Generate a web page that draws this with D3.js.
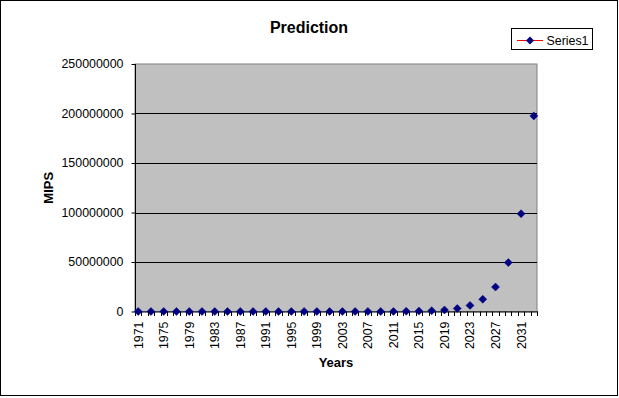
<!DOCTYPE html>
<html><head><meta charset="utf-8">
<script src="https://cdn.jsdelivr.net/npm/d3@7"></script>
<style>html,body{margin:0;padding:0;background:#fff}svg{display:block}text{font-family:"Liberation Sans",Arial,sans-serif}</style>
</head><body>
<script>
// Data
const years = d3.range(1971, 2034); // category axis: every year
const pointYears = [1971,1973,1975,1977,1979,1981,1983,1985,1987,1989,1991,1993,1995,1997,1999,2001,2003,2005,2007,2009,2011,2013,2015,2017,2019,2021,2023,2025,2027,2029,2031,2033];
const mips = [0.09,0.19,0.37,0.75,1.5,3,6,12,24,47,95,190,375,750,1500,3000,6000,12000,24000,48000,96500,193000,386000,772000,1540000,3090000,6175000,12350000,24700000,49400000,98800000,197600000];
const yTicks = [0,50000000,100000000,150000000,200000000,250000000];
const xLabels = [1971,1975,1979,1983,1987,1991,1995,1999,2003,2007,2011,2015,2019,2023,2027,2031];
const seriesName = "Series1";

const W = 619, H = 398;
const svg = d3.select("body").append("svg").attr("width", W).attr("height", H);
svg.append("rect").attr("x",0.5).attr("y",0.5).attr("width",617).attr("height",395)
  .attr("fill","#fff").attr("stroke","#000");

const L = 135, R = 537, T = 64, B = 311.5;
const x = d3.scaleBand().domain(years).range([L, R]);
const y = d3.scaleLinear().domain([0, 250000000]).range([B, T]);

svg.append("rect").attr("x",L).attr("y",T).attr("width",R-L).attr("height",B-T)
  .attr("fill","#C0C0C0").attr("stroke","#808080");

// gridlines
svg.append("g").selectAll("line").data(yTicks.filter(d=>d>0 && d<250000000)).join("line")
  .attr("x1",L).attr("x2",R).attr("y1",d=>Math.round(y(d))+0.5).attr("y2",d=>Math.round(y(d))+0.5)
  .attr("stroke","#000");

// y axis
const yAxis = d3.axisLeft(y).tickValues(yTicks).tickSize(4).tickPadding(8).tickFormat(d=>String(d));
const gy = svg.append("g").attr("transform",`translate(${L+0.5},0)`).call(yAxis);
gy.select(".domain").attr("stroke","#000").attr("d",`M0,${T}V${B}`);
gy.selectAll(".tick line").attr("stroke","#000");
gy.selectAll(".tick text").attr("font-size","12.4px").attr("fill","#000")
  .attr("font-family","'Liberation Sans',Arial,sans-serif");

// x axis: ticks at category boundaries
const boundaries = years.map(v=>x(v)).concat([R]);
svg.append("g").selectAll("line").data(boundaries).join("line")
  .attr("x1",d=>Math.round(d)+0.5).attr("x2",d=>Math.round(d)+0.5).attr("y1",B).attr("y2",B+4.5)
  .attr("stroke","#000");
svg.append("line").attr("x1",L).attr("x2",R+1).attr("y1",B+0.5).attr("y2",B+0.5).attr("stroke","#000");
svg.append("g").selectAll("text").data(xLabels).join("text")
  .attr("transform",d=>`translate(${x(d)+x.bandwidth()/2},321.5) rotate(-90)`)
  .attr("text-anchor","end").attr("dy","0.36em").attr("font-size","12.4px").attr("fill","#000")
  .text(d=>d);

// points
const sym = d3.symbol().type(d3.symbolDiamond2 || d3.symbolDiamond).size(30);
const diamond = "M0,-4L4,0L0,4L-4,0Z";
svg.append("g").selectAll("path").data(pointYears.map((yr,i)=>({yr,v:mips[i]}))).join("path")
  .attr("d",diamond).attr("fill","#000080").attr("stroke","#000080").attr("stroke-width",0.5)
  .attr("transform",d=>`translate(${x(d.yr)+x.bandwidth()/2},${y(d.v)})`);

// title & axis titles
svg.append("text").attr("x",309).attr("y",33).attr("text-anchor","middle")
  .attr("font-size","16px").attr("font-weight","bold").text("Prediction");
svg.append("text").attr("x",(L+R)/2).attr("y",366.5).attr("text-anchor","middle")
  .attr("font-size","13px").attr("font-weight","bold").text("Years");
svg.append("text").attr("transform",`translate(52.5,${(T+B)/2}) rotate(-90)`).attr("text-anchor","middle")
  .attr("font-size","13px").attr("font-weight","bold").text("MIPS");

// legend
const lg = svg.append("g");
lg.append("rect").attr("x",511.5).attr("y",28.5).attr("width",81).attr("height",21)
  .attr("fill","#fff").attr("stroke","#000");
lg.append("line").attr("x1",517).attr("x2",543).attr("y1",40.5).attr("y2",40.5).attr("stroke","#FF0000");
lg.append("path").attr("d",diamond).attr("fill","#000080").attr("transform","translate(530,40.5)");
lg.append("text").attr("x",546.5).attr("y",45).attr("font-size","12.4px").text(seriesName);
</script>
</body></html>
